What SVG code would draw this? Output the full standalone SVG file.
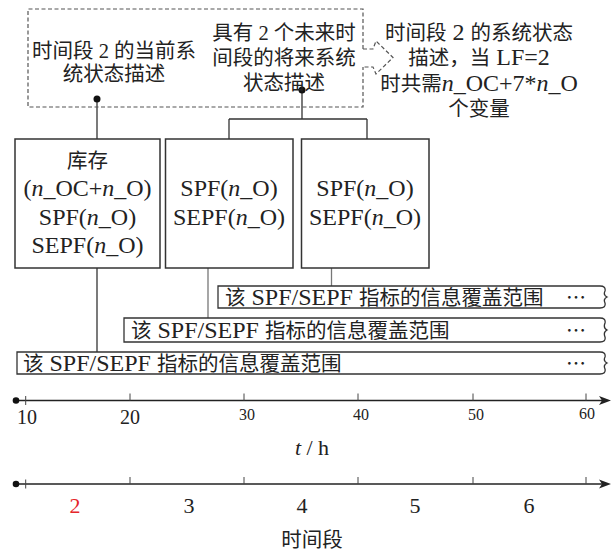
<svg xmlns="http://www.w3.org/2000/svg" xmlns:xlink="http://www.w3.org/1999/xlink" width="613" height="556" viewBox="0 0 613 556">
<style>
.t{font-family:"Liberation Serif","Noto Sans CJK SC",serif;font-size:20.5px;fill:#222;text-anchor:middle}
.s{text-anchor:start}
.L{font-size:24px}
.i{font-style:italic}
.box{fill:#fff;stroke:#333;stroke-width:1.5}
.ban{fill:#fff;stroke:#333;stroke-width:1.3}
.dash{fill:none;stroke:#555;stroke-width:1.2;stroke-dasharray:4 2.5}
.ln{fill:none;stroke:#333;stroke-width:1.3}
.gl{fill:none;stroke:#777;stroke-width:1.3}
.ax{fill:none;stroke:#222;stroke-width:1.3}
.tk{fill:none;stroke:#444;stroke-width:1}
.dots{font-family:"Noto Sans CJK SC",sans-serif;font-size:20px;fill:#222}
.n{font-family:"Liberation Serif",serif;fill:#222;text-anchor:middle}
</style>
<defs>
<path id="ah" d="M-12,-4.5 L0,0 L-12,4.5 L-9,0 Z" fill="#222"/>
</defs>

<g id="connectors">
<path class="ln" d="M97,99 V139"/>
<path class="ln" d="M302,90 V119 M229,119 H367 M229,119 V139 M367,119 V139"/>
<path class="ln" d="M97,268 V352"/>
<path class="gl" d="M208,268 V318"/>
<path class="gl" d="M331.5,268 V286"/>
<circle cx="97" cy="99" r="3.5" fill="#111"/>
<circle cx="302" cy="90" r="3.5" fill="#111"/>
</g>

<g id="state-box">
<path class="dash" d="M363,49 V9 H28 V107 H363 V67"/>
<path class="dash" d="M363,49 H373 L376,41 L393,57.5 L376,74 L373,67 H363"/>
<text class="t" x="114" y="58">时间段<tspan> 2 </tspan>的当前系</text>
<text class="t" x="114" y="81">统状态描述</text>
<text class="t" x="284" y="40">具有<tspan> 2 </tspan>个未来时</text>
<text class="t" x="284" y="65">间段的将来系统</text>
<text class="t" x="284" y="90">状态描述</text>
</g>

<g id="note">
<text class="t" x="479" y="40">时间段<tspan class="L">  2 </tspan>的系统状态</text>
<text class="t" x="479" y="65">描述，当<tspan class="L"> LF=2</tspan></text>
<text class="t" x="479" y="91">时共需<tspan class="L"><tspan class="i">n</tspan>_OC+7*<tspan class="i">n</tspan>_O</tspan></text>
<text class="t" x="479" y="116">个变量</text>
</g>

<g id="box1">
<rect class="box" x="15" y="139" width="145" height="129"/>
<text class="t" x="87.5" y="168">库存</text>
<text class="t L" x="87.5" y="196">(<tspan class="i">n</tspan>_OC+<tspan class="i">n</tspan>_O)</text>
<text class="t L" x="87.5" y="225">SPF(<tspan class="i">n</tspan>_O)</text>
<text class="t L" x="87.5" y="253">SEPF(<tspan class="i">n</tspan>_O)</text>
</g>

<g id="box2">
<rect class="box" x="165.5" y="139" width="127.5" height="129"/>
<text class="t L" x="229" y="196">SPF(<tspan class="i">n</tspan>_O)</text>
<text class="t L" x="229" y="225">SEPF(<tspan class="i">n</tspan>_O)</text>
</g>

<g id="box3">
<rect class="box" x="301.5" y="139" width="127.5" height="129"/>
<text class="t L" x="365" y="196">SPF(<tspan class="i">n</tspan>_O)</text>
<text class="t L" x="365" y="225">SEPF(<tspan class="i">n</tspan>_O)</text>
</g>

<g id="banner1">
<path class="ban" d="M218,286 H600 Q606,286 605,291 Q603,295 607,297 Q603,299 605,303 Q606,308 600,308 H218 Z"/>
<text class="t s" x="225" y="304.5">该<tspan class="L"> SPF/SEPF </tspan>指标的信息覆盖范围</text>
<text class="dots" x="566" y="304.5">…</text>
</g>

<g id="banner2">
<path class="ban" d="M124,318 H600 Q606,318 605,323 Q603,328 607,330 Q603,332 605,337 Q606,342 600,342 H124 Z"/>
<text class="t s" x="131" y="337.5">该<tspan class="L"> SPF/SEPF </tspan>指标的信息覆盖范围</text>
<text class="dots" x="566" y="337.5">…</text>
</g>

<g id="banner3">
<path class="ban" d="M17,352 H600 Q606,352 605,357 Q603,361 607,363 Q603,365 605,369 Q606,374 600,374 H17 Z"/>
<text class="t s" x="23" y="371">该<tspan class="L"> SPF/SEPF </tspan>指标的信息覆盖范围</text>
<text class="dots" x="566" y="371">…</text>
</g>

<g id="time-axis">
<path class="ax" d="M16,400.5 H605"/>
<use xlink:href="#ah" href="#ah" x="611" y="400.5"/>
<circle cx="16" cy="400.5" r="3.3" fill="#111"/>
<path class="tk" d="M25.7,396 V405 M130,393.5 V400.5 M244,393.5 V400.5 M358,393.5 V400.5 M473,393.5 V400.5 M586,393.5 V400.5"/>
<text class="n" x="27" y="424" font-size="20">10</text>
<text class="n" x="130" y="424" font-size="20">20</text>
<text class="n" x="247" y="420" font-size="16">30</text>
<text class="n" x="361" y="420" font-size="16">40</text>
<text class="n" x="476" y="420" font-size="16">50</text>
<text class="n" x="587" y="419" font-size="16">60</text>
<text class="n" x="312" y="455" font-size="22"><tspan font-style="italic">t</tspan> / h</text>
</g>

<g id="period-axis">
<path class="ax" d="M16,484 H605"/>
<use xlink:href="#ah" href="#ah" x="611" y="484"/>
<circle cx="16" cy="484" r="3.3" fill="#111"/>
<path class="tk" d="M25.7,479.5 V488.5 M130,477 V484 M244,477 V484 M358,477 V484 M473,477 V484 M586,477 V484"/>
<text class="n" x="75" y="513" font-size="22" fill="#e5262b" style="fill:#e5262b">2</text>
<text class="n" x="189" y="513" font-size="22">3</text>
<text class="n" x="302" y="513" font-size="22">4</text>
<text class="n" x="415" y="513" font-size="22">5</text>
<text class="n" x="529" y="513" font-size="22">6</text>
<text class="t" x="312" y="547">时间段</text>
</g>
</svg>
